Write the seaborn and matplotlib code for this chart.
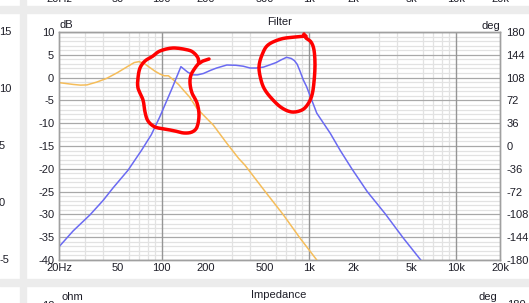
import numpy as np
import pandas as pd
import matplotlib
matplotlib.use("Agg")
import matplotlib.pyplot as plt
from matplotlib.ticker import FixedLocator, MultipleLocator, NullFormatter
from matplotlib.patches import Rectangle
import seaborn as sns

# ---------------- data ----------------
blue_freq = [20, 25, 32.5, 40, 46.6, 59, 73, 85, 97, 117, 135, 150, 163, 175, 192, 215, 236, 277,
             320, 358, 399, 440, 492, 544, 600, 650, 706, 760, 800, 835, 870, 918, 967, 1016,
             1134, 1400, 1632, 1964, 2500, 3300, 4400, 5780, 6500]
blue_db = [-37.1, -33.6, -30.1, -26.9, -24.2, -20.3, -15.9, -12.5, -8.6, -2.5, 2.4, 1.2, 0.6, 0.6, 0.9,
           1.6, 2.1, 2.76, 2.7, 2.5, 2.1, 2.1, 2.3, 2.8, 3.3, 3.9, 4.45, 4.2, 3.7, 2.9, 1.5, -0.5, -2.0,
           -3.8, -7.8, -12.2, -15.9, -20.0, -25.0, -29.8, -35.2, -40.0, -42.0]

orange_freq = [20, 25, 28, 31, 36, 42, 50, 59, 65, 70, 76, 83, 90, 97, 104, 111, 120, 130, 140,
               155, 173, 200, 224, 277, 333, 368, 500, 672, 872, 1134, 1250]
orange_db = [-1.1, -1.5, -1.65, -1.6, -1.0, -0.2, 1.1, 2.5, 3.3, 3.5, 3.1, 2.2, 1.4, 0.8, 0.4, 0.4,
             -0.5, -1.5, -2.7, -4.3, -6.7, -8.8, -10.4, -14.4, -17.7, -19.2, -24.8, -30.1, -35.2,
             -40.0, -42.5]

x_ticks = [20, 50, 100, 200, 500, 1000, 2000, 5000, 10000, 20000]
x_labels = ["20Hz", "50", "100", "200", "500", "1k", "2k", "5k", "10k", "20k"]
db_ticks = list(range(-40, 11, 5))
deg_ticks = list(range(-180, 181, 36))
left_panel_labels = ["15", "10", "5", "0", "-5"]

# red hand-drawn annotation strokes (reference pixel coordinates)
stroke1 = [(209, 59), (203, 61), (199, 63), (198, 58), (194, 53), (188, 50), (173, 48), (160, 51),
           (153, 56), (145, 61), (140, 68), (138, 78), (138, 88), (143, 100), (145, 112), (148, 121),
           (155, 127), (165, 129), (175, 131), (184, 133), (192, 132), (197, 127), (199, 115),
           (197, 103), (192, 93), (190, 83), (191, 75), (195, 68), (199, 63)]
stroke2 = [(306, 36), (295, 37), (281, 39), (268, 45), (262, 55), (259, 67), (261, 80), (265, 90),
           (273, 100), (282, 108), (292, 112), (302, 110), (308, 104), (312, 95), (314, 82),
           (315, 65), (314, 50), (311, 42), (306, 38), (304, 34)]

# ---------------- figure ----------------
W, H = 529, 303
sns.set_style("white")
plt.rcParams["font.family"] = ["Liberation Sans", "DejaVu Sans"]
plt.rcParams["font.size"] = 8
plt.rcParams["axes.unicode_minus"] = False
txt = "#1e1e28"

fig = plt.figure(figsize=(W / 100, H / 100), dpi=100, facecolor="white")

def fx(px):
    return px / W

def fy(py):
    return 1 - py / H

# gray separator bands of the screenshot
band = "#ececec"
fig.patches.append(Rectangle((fx(0), fy(13)), 1, 7 / H, transform=fig.transFigure, color=band, zorder=0))
fig.patches.append(Rectangle((fx(0), fy(286)), 1, 7 / H, transform=fig.transFigure, color=band, zorder=0))
fig.patches.append(Rectangle((fx(20), 0), 6 / W, 1, transform=fig.transFigure, color=band, zorder=0))

L, R, T, B = 59, 500, 32, 260
ax = fig.add_axes([fx(L), fy(B), (R - L) / W, (B - T) / H])
ax.set_facecolor("white")

df_o = pd.DataFrame({"freq": orange_freq, "dB": orange_db})
df_b = pd.DataFrame({"freq": blue_freq, "dB": blue_db})
sns.lineplot(data=df_o, x="freq", y="dB", ax=ax, color="#f5bd5a", lw=1.1, sort=False, zorder=3)
sns.lineplot(data=df_b, x="freq", y="dB", ax=ax, color="#6a6af2", lw=1.1, sort=False, zorder=4)

ax.set_xscale("log")
ax.set_xlim(20, 20000)
ax.set_ylim(-40, 10)
ax.set_xlabel("")
ax.set_ylabel("")

# grid
minor_x = [m * 10 ** e for e in range(1, 5) for m in range(1, 10) if 20 <= m * 10 ** e <= 20000]
ax.xaxis.set_minor_locator(FixedLocator(minor_x))
ax.xaxis.set_minor_formatter(NullFormatter())
ax.yaxis.set_minor_locator(MultipleLocator(1))
ax.grid(which="minor", axis="both", color="#e2e2e2", lw=0.9, zorder=0)
ax.grid(which="major", axis="y", color="#a8a8a8", lw=0.9, zorder=1)
for d in [100, 1000, 10000]:
    ax.axvline(d, color="#959595", lw=1.0, zorder=1)

ax.set_xticks(x_ticks)
ax.set_xticklabels(x_labels)
ax.set_yticks(db_ticks)
ax.tick_params(axis="both", which="both", length=0, colors=txt, labelsize=8)
ax.tick_params(axis="x", pad=2.5)
ax.tick_params(axis="y", pad=3.5)
for s in ax.spines.values():
    s.set_color("#a0a0a0")
    s.set_linewidth(1.0)

ax2 = ax.twinx()
ax2.set_ylim(-180, 180)
ax2.set_yticks(deg_ticks)
ax2.tick_params(axis="y", length=0, colors=txt, labelsize=8, pad=4.5)
ax2.grid(False)
for s in ax2.spines.values():
    s.set_color("#a0a0a0")
    s.set_linewidth(1.0)

# texts of the panel
fig.text(fx(60), fy(25.5), "dB", ha="left", va="center", fontsize=8, color=txt)
fig.text(fx(500), fy(26), "deg", ha="right", va="center", fontsize=8, color=txt)
fig.text(fx(279.5), fy(22), "Filter", ha="center", va="center", fontsize=8, color=txt)

# neighbouring panels (cut off)
for xt, lab in zip(x_ticks, x_labels):
    px = L + (R - L) * np.log10(xt / 20) / 3
    fig.text(fx(px), fy(-1), lab, ha="center", va="center", fontsize=8, color=txt)
for i, lab in enumerate(left_panel_labels):
    fig.text(fx(-1), fy(32 + i * 57), lab, ha="left", va="center", fontsize=8, color=txt)
fig.text(fx(279), fy(295), "Impedance", ha="center", va="center", fontsize=8, color=txt)
fig.text(fx(61), fy(297), "ohm", ha="left", va="center", fontsize=8, color=txt)
fig.text(fx(55), fy(306), "12", ha="right", va="center", fontsize=8, color=txt)
fig.text(fx(497), fy(297), "deg", ha="right", va="center", fontsize=8, color=txt)
fig.text(fx(507), fy(305), "180", ha="left", va="center", fontsize=8, color=txt)

# red hand-drawn marks
def smooth(pts, n=8):
    p = np.array(pts, dtype=float)
    p = np.vstack([p[0], p, p[-1]])
    out = []
    for i in range(1, len(p) - 2):
        p0, p1, p2, p3 = p[i - 1], p[i], p[i + 1], p[i + 2]
        for t in np.linspace(0, 1, n, endpoint=False):
            t2, t3 = t * t, t * t * t
            out.append(0.5 * ((2 * p1) + (-p0 + p2) * t + (2 * p0 - 5 * p1 + 4 * p2 - p3) * t2
                              + (-p0 + 3 * p1 - 3 * p2 + p3) * t3))
    out.append(p[-2])
    return np.array(out)

for st in [stroke1, stroke2]:
    s = smooth(st)
    fig.add_artist(plt.Line2D(fx(s[:, 0]), fy(s[:, 1]), transform=fig.transFigure,
                              color="#ff0000", lw=2.5, solid_capstyle="round",
                              solid_joinstyle="round", zorder=10))

fig.savefig("out.png", dpi=100, facecolor="white")
